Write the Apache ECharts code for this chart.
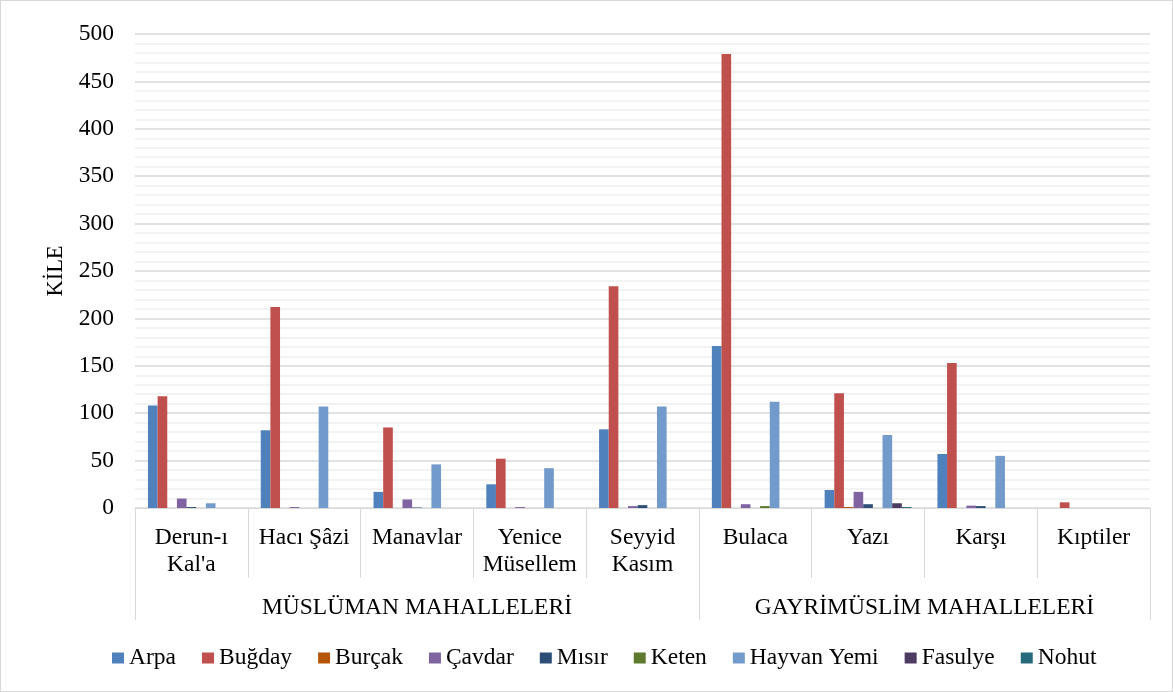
<!DOCTYPE html>
<html><head><meta charset="utf-8">
<script src="https://cdn.jsdelivr.net/npm/echarts@6/dist/echarts.min.js"></script>
<style>html,body{margin:0;padding:0;background:#fff}#c{width:1171px;height:690px;border:1px solid #d9d9d9}</style>
</head><body><div id="c"></div>
<script>
const categories = ["Derun-ı\nKal'a", "Hacı Şâzi", "Manavlar", "Yenice\nMüsellem", "Seyyid\nKasım", "Bulaca", "Yazı", "Karşı", "Kıptiler"];
const groups = ["MÜSLÜMAN MAHALLELERİ", "GAYRİMÜSLİM MAHALLELERİ"];
const seriesNames = ["Arpa", "Buğday", "Burçak", "Çavdar", "Mısır", "Keten", "Hayvan Yemi", "Fasulye", "Nohut"];
const arpa    = [108, 82, 17, 25, 83, 171, 19, 57, 0];
const bugday  = [118, 212, 85, 52, 234, 479, 121, 153, 6];
const burcak  = [0, 0, 0, 0, 0, 0, 1, 0, 0];
const cavdar  = [10, 1, 9, 1, 2, 4, 17, 2.5, 0];
const misir   = [1, 0, 0.5, 0, 3, 0, 4, 2, 0];
const keten   = [0, 0, 0, 0, 0, 2, 0, 0, 0];
const hayvan  = [5, 107, 46, 42, 107, 112, 77, 55, 0];
const fasulye = [0, 0, 0, 0, 0, 0, 5, 0, 0];
const nohut   = [0, 0, 0, 0, 0, 0, 1, 0, 0];
const yTicks = [0, 50, 100, 150, 200, 250, 300, 350, 400, 450, 500];

const values = [arpa, bugday, burcak, cavdar, misir, keten, hayvan, fasulye, nohut];
const colors = ['#4f81bd', '#c0504d', '#b65708', '#8064a2', '#2c4d75', '#5f7a2e', '#729aca', '#4d3b62', '#276a7c'];
const FONT = 'Liberation Serif';

const chart = echarts.init(document.getElementById('c'));
chart.setOption({
  animation: false,
  textStyle: {fontFamily: FONT, color: '#000'},
  color: colors,
  grid: {left: 134, right: 22, top: 33, bottom: 183, containLabel: false},
  legend: {
    bottom: 16, left: 106, icon: 'rect', itemWidth: 12, itemHeight: 11, itemGap: 26,
    textStyle: {fontFamily: FONT, fontSize: 23.5, color: '#000', padding: [0, 0, 0, 0]},
    data: seriesNames
  },
  xAxis: [{
    type: 'category', data: categories,
    axisLine: {lineStyle: {color: '#d9d9d9', width: 1}},
    axisTick: {show: true, alignWithLabel: false, length: 70, lineStyle: {color: '#d9d9d9'}},
    axisLabel: {interval: 0, fontFamily: FONT, fontSize: 23.5, color: '#000', lineHeight: 26.5, margin: 17, verticalAlign: 'top'}
  }, {
    type: 'value', min: 0, max: 9, position: 'bottom',
    axisLine: {show: false}, splitLine: {show: false},
    axisTick: {show: true, customValues: [0, 5, 9], length: 112, lineStyle: {color: '#d9d9d9'}},
    axisLabel: {customValues: [2.5, 7], margin: 88, fontFamily: FONT, fontSize: 23.5, color: '#000',
      formatter: v => (v < 5 ? groups[0] : groups[1])}
  }],
  yAxis: {
    type: 'value', min: 0, max: 500, interval: 50,
    name: 'KİLE', nameLocation: 'middle', nameGap: 55,
    nameTextStyle: {fontFamily: FONT, fontSize: 22.5, color: '#000'},
    axisLine: {show: false}, axisTick: {show: false},
    axisLabel: {fontFamily: FONT, fontSize: 23.5, color: '#000', margin: 21,
      formatter: v => (yTicks.includes(v) ? String(v) : '')},
    splitLine: {lineStyle: {color: '#d9d9d9', width: 1.5}},
    minorTick: {show: false, splitNumber: 5},
    minorSplitLine: {show: true, lineStyle: {color: '#efefef', width: 1.5}}
  },
  series: seriesNames.map((n, i) => ({
    name: n, type: 'bar', xAxisIndex: 0, data: values[i],
    barGap: '0%', barCategoryGap: '23%',
    itemStyle: {color: colors[i]}
  }))
});
</script></body></html>
